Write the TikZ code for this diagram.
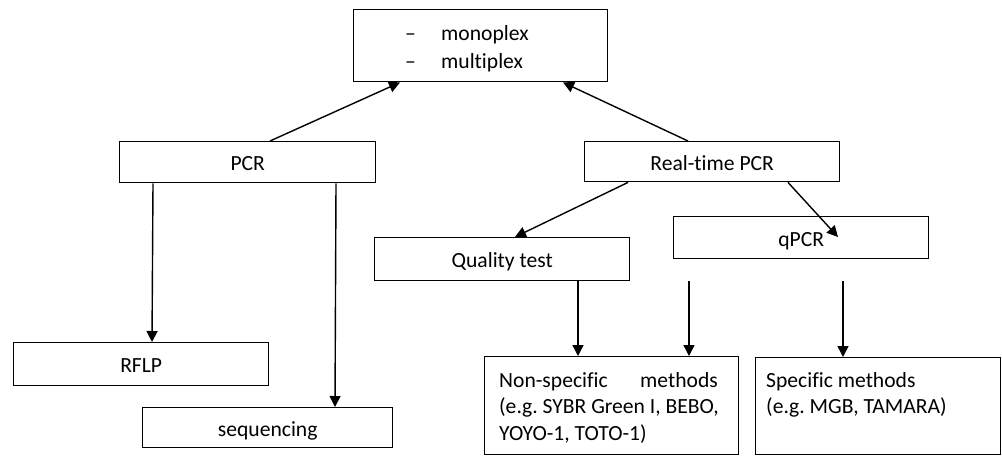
\documentclass[tikz,border=0pt]{standalone}
\usepackage{fontspec}
\setmainfont{Carlito}[Ligatures={TeX,NoCommon}]
\usetikzlibrary{arrows.meta,calc}
\frenchspacing
\begin{document}
\begin{tikzpicture}[x=1pt,y=-1pt,
  every node/.style={font=\fontsize{21.6}{26.7}\selectfont},
  box/.style={draw=black, line width=1.4pt, inner sep=0pt, anchor=north west,
    text height=17pt, text depth=0pt, align=center},
  arr/.style={line width=1.4pt, -{Triangle[length=11pt,width=11pt]}},
  txt/.style={inner sep=0pt, anchor=base west}]
\useasboundingbox (0,0) rectangle (1002,456);

% boxes
\node[box, minimum width=254pt, minimum height=72pt] (top) at (353,9) {};
\node[box, minimum width=256pt, minimum height=41pt] (pcr) at (119,141) {PCR};
\node[box, minimum width=255pt, minimum height=40pt] (rt) at (584,141) {Real-time PCR};
\node[box, minimum width=255pt, minimum height=43pt] (qt) at (374,237) {Quality test};
\node[box, minimum width=255pt, minimum height=42pt] (qpcr) at (673,216) {qPCR};
\node[box, minimum width=255pt, minimum height=43pt] (rflp) at (13,342) {RFLP};
\node[box, minimum width=250pt, minimum height=40pt] (seq) at (142,407) {sequencing};
\node[box, minimum width=254pt, minimum height=98pt] (nonspec) at (484,356) {};
\node[box, minimum width=245pt, minimum height=97pt] (spec) at (755,357) {};

% list inside the top box
\node[txt] (d1) at (405,40) {–};
\node[txt] (t1) at (441,40) {monoplex};
\node[txt] (d2) at (405,68) {–};
\node[txt] (t2) at (441,68) {multiplex};

% method boxes text
\node[txt] (ns1) at (499,387) {Non-specific};
\node[txt, anchor=base east] (ns1b) at (718,387) {methods};
\node[txt] (ns2) at (499,413) {(e.g. SYBR Green I, BEBO,};
\node[txt] (ns3) at (499,440) {YOYO-1, TOTO-1)};
\node[txt] (sp1) at (766,387) {Specific methods};
\node[txt] (sp2) at (766,413) {(e.g. MGB, TAMARA)};

% free arrow ends
\coordinate (qend) at ($(qpcr.north west)+(165,21)$);
\coordinate (ns0) at ($(qpcr.south west)+(16,22)$);
\coordinate (sp0) at ($(qpcr.south west)+(170,22)$);

% connectors
\draw[arr] ($(pcr.north west)+(151,0)$) -- ($(top.south west)+(47,0)$);
\draw[arr] ($(rt.north west)+(104,0)$) -- ($(top.south west)+(210,0)$);
\draw[arr] ($(rt.south west)+(44,0)$) -- ($(qt.north west)+(141,0)$);
\draw[arr] ($(rt.south west)+(204,0)$) -- (qend);
\draw[arr] ($(pcr.south west)+(34,0)$) -- ($(rflp.north west)+(139,0)$);
\draw[arr] ($(pcr.south west)+(217,0)$) -- ($(seq.north west)+(193,0)$);
\draw[arr] ($(qt.south west)+(204,0)$) -- ($(nonspec.north west)+(94,0)$);
\draw[arr] (ns0) -- ($(nonspec.north west)+(205,0)$);
\draw[arr] (sp0) -- ($(spec.north west)+(88,0)$);
\end{tikzpicture}
\end{document}
